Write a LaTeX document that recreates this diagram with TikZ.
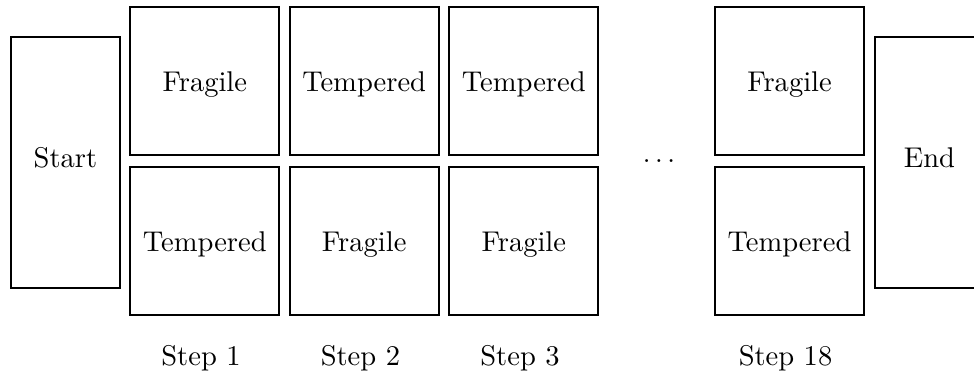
\documentclass[tikz,border=0pt]{standalone}
\begin{document}
\begin{tikzpicture}[x=0.361pt,y=-0.361pt,
  every node/.style={font=\fontsize{10.3pt}{12pt}\selectfont},
  cell/.style={draw,line width=0.7pt,minimum width=53.8pt,minimum height=53.4pt,inner sep=0pt,text height=9pt,text depth=1.3pt},
  endbox/.style={draw,line width=0.7pt,minimum width=39.3pt,minimum height=90.5pt,inner sep=0pt,text height=6.9pt,text depth=3.6pt},
  steplabel/.style={anchor=base,inner sep=0pt}]
\clip (0,0) rectangle (974,376);
\node[endbox] (start) at (65.5,162.5) {Start};
\node[cell] (c1t) at (204.8,81.3) {Fragile};
\node[cell] (c1b) at (204.8,240.7) {Tempered};
\node[cell] (c2t) at (364.2,81.3) {Tempered};
\node[cell] (c2b) at (364.2,240.7) {Fragile};
\node[cell] (c3t) at (523.8,81.3) {Tempered};
\node[cell] (c3b) at (523.8,240.7) {Fragile};
\node[inner sep=0pt] (dots) at (659,160.7) {$\ldots$};
\node[cell] (c18t) at (789.5,81.3) {Fragile};
\node[cell] (c18b) at (789.5,240.7) {Tempered};
\node[endbox] (end) at (929.5,162.5) {End};
\node[steplabel] (s1) at (201,365) {Step 1};
\node[steplabel] (s2) at (360.4,365) {Step 2};
\node[steplabel] (s3) at (520,365) {Step 3};
\node[steplabel] (s18) at (785.5,365) {Step 18};
\end{tikzpicture}
\end{document}
